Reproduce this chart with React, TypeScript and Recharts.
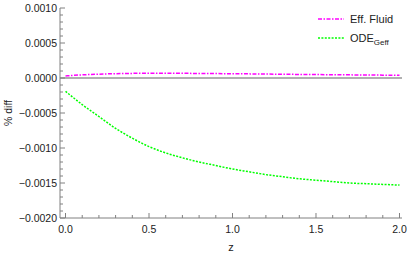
import React from 'react';
import { LineChart, Line, XAxis, YAxis, ReferenceLine, Legend, Label } from 'recharts';

const zValues = [0.0, 0.1, 0.2, 0.3, 0.4, 0.5, 0.6, 0.7, 0.8, 0.9, 1.0, 1.1, 1.2, 1.3, 1.4, 1.5, 1.6, 1.7, 1.8, 1.9, 2.0];
const effFluid = [3.0e-5, 4.5e-5, 5.5e-5, 6.2e-5, 6.6e-5, 6.8e-5, 6.8e-5, 6.7e-5, 6.5e-5, 6.3e-5, 6.1e-5, 5.9e-5, 5.6e-5, 5.4e-5, 5.1e-5, 4.9e-5, 4.7e-5, 4.5e-5, 4.3e-5, 4.1e-5, 4.0e-5];
const odeGeff = [-0.00019, -0.00038, -0.00055, -0.00072, -0.00086, -0.00098, -0.00107, -0.00114, -0.00120, -0.00125, -0.00130, -0.00134, -0.00138, -0.00141, -0.00144, -0.00146, -0.00148, -0.00150, -0.00151, -0.00152, -0.00153];

const xTicks = [0.0, 0.1, 0.2, 0.3, 0.4, 0.5, 0.6, 0.7, 0.8, 0.9, 1.0, 1.1, 1.2, 1.3, 1.4, 1.5, 1.6, 1.7, 1.8, 1.9, 2.0];
const xMajor = [0.0, 0.5, 1.0, 1.5, 2.0];
const yTicks = [
  -0.002, -0.0019, -0.0018, -0.0017, -0.0016, -0.0015, -0.0014, -0.0013, -0.0012, -0.0011,
  -0.001, -0.0009, -0.0008, -0.0007, -0.0006, -0.0005, -0.0004, -0.0003, -0.0002, -0.0001,
  0, 0.0001, 0.0002, 0.0003, 0.0004, 0.0005, 0.0006, 0.0007, 0.0008, 0.0009, 0.001,
];
const yMajor = [-0.002, -0.0015, -0.001, -0.0005, 0, 0.0005, 0.001];

const legendItems = [
  { name: 'Eff. Fluid', sub: '', color: '#ff00ff', dash: '4 1.5 1.5 1.5' },
  { name: 'ODE', sub: 'Geff', color: '#00ff00', dash: '2 1.4' },
];

const data = zValues.map((z, i) => ({ z, eff: effFluid[i], ode: odeGeff[i] }));

const FONT = '"Liberation Sans", Arial, sans-serif';
const TEXT = '#222';
const DARK = '#808080';
const LIGHT = '#b4b4b4';

const isIn = (v: number, arr: number[]) => arr.some((a) => Math.abs(a - v) < 1e-9);
const fmtY = (v: number) => {
  const s = Math.abs(v).toFixed(4);
  return v < -1e-12 ? '\u2212' + s : s;
};

const BottomTick = (props: any) => {
  const { x, y, payload } = props;
  const major = isIn(payload.value, xMajor);
  return (
    <g>
      <line x1={x} x2={x} y1={y} y2={y - (major ? 5 : 3)} stroke={DARK} strokeWidth={1} />
      {major && (
        <text x={x} y={y + 15} textAnchor="middle" fontFamily={FONT} fontSize={10.5} fill={TEXT}>
          {payload.value.toFixed(1)}
        </text>
      )}
    </g>
  );
};

const TopTick = (props: any) => {
  const { x, y, payload } = props;
  const major = isIn(payload.value, xMajor);
  return <line x1={x} x2={x} y1={y} y2={y + (major ? 5 : 3)} stroke={LIGHT} strokeWidth={1} />;
};

const LeftTick = (props: any) => {
  const { x, y, payload } = props;
  const major = isIn(payload.value, yMajor);
  return (
    <g>
      <line x1={x} x2={x + (major ? 5 : 3)} y1={y} y2={y} stroke={DARK} strokeWidth={1} />
      {major && (
        <text x={x - 3} y={y + 4} textAnchor="end" fontFamily={FONT} fontSize={10.5} fill={TEXT}>
          {fmtY(payload.value)}
        </text>
      )}
    </g>
  );
};

const RightTick = (props: any) => {
  const { x, y, payload } = props;
  const major = isIn(payload.value, yMajor);
  return <line x1={x} x2={x - (major ? 5 : 3)} y1={y} y2={y} stroke={LIGHT} strokeWidth={1} />;
};

const renderLegend = () => (
  <svg width={95} height={45} style={{ display: 'block' }}>
    {legendItems.map((it, i) => {
      const cy = 11 + i * 19;
      return (
        <g key={it.name}>
          <line x1={8} x2={34} y1={cy} y2={cy} stroke={it.color} strokeWidth={1.5} strokeDasharray={it.dash} />
          <text x={40} y={cy + 4} fontFamily={FONT} fontSize={11} fill={TEXT}>
            {it.name}
            {it.sub && (
              <tspan fontSize={8} dy={3}>
                {it.sub}
              </tspan>
            )}
          </text>
        </g>
      );
    })}
  </svg>
);

export default function App() {
  return (
    <div style={{ position: 'absolute', left: 0, top: 0, background: '#fff' }}>
      <LineChart width={407} height={255} data={data} margin={{ top: 8, right: 5, bottom: 0, left: 0 }}>
        <XAxis
          xAxisId="bottom"
          dataKey="z"
          type="number"
          domain={[-0.033, 2.015]}
          ticks={xTicks}
          interval={0}
          tickSize={0}
          tickMargin={0}
          height={37}
          tick={<BottomTick />}
          axisLine={{ stroke: DARK }}
          tickLine={false}
          allowDataOverflow
        >
          <Label
            content={(p: any) => {
              const vb = p.viewBox;
              return (
                <text x={vb.x + vb.width / 2} y={251} textAnchor="middle" fontFamily={FONT} fontSize={11} fill={TEXT}>
                  z
                </text>
              );
            }}
          />
        </XAxis>
        <XAxis
          xAxisId="top"
          dataKey="z"
          type="number"
          orientation="top"
          domain={[-0.033, 2.015]}
          ticks={xTicks}
          interval={0}
          tickSize={0}
          tickMargin={0}
          height={0}
          tick={<TopTick />}
          axisLine={{ stroke: LIGHT }}
          tickLine={false}
          allowDataOverflow
        />
        <YAxis
          yAxisId="left"
          type="number"
          domain={[-0.002, 0.001]}
          ticks={yTicks}
          interval={0}
          tickSize={0}
          tickMargin={0}
          width={60}
          tick={<LeftTick />}
          axisLine={{ stroke: DARK }}
          tickLine={false}
          allowDataOverflow
        >
          <Label
            content={(p: any) => {
              const vb = p.viewBox;
              const cy = vb.y + vb.height / 2;
              return (
                <text
                  x={12}
                  y={cy}
                  transform={`rotate(-90 12 ${cy})`}
                  textAnchor="middle"
                  fontFamily={FONT}
                  fontSize={10.5}
                  fill={TEXT}
                >
                  % diff
                </text>
              );
            }}
          />
        </YAxis>
        <YAxis
          yAxisId="right"
          orientation="right"
          type="number"
          domain={[-0.002, 0.001]}
          ticks={yTicks}
          interval={0}
          tickSize={0}
          tickMargin={0}
          width={0}
          tick={<RightTick />}
          axisLine={{ stroke: LIGHT }}
          tickLine={false}
          allowDataOverflow
        />
        <ReferenceLine xAxisId="bottom" yAxisId="left" y={0} stroke="#b0b0b0" strokeWidth={1.8} />
        <Line
          xAxisId="bottom"
          yAxisId="left"
          type="monotone"
          dataKey="eff"
          stroke="#ff00ff"
          strokeWidth={1.5}
          strokeDasharray="4 1.5 1.5 1.5"
          dot={false}
          isAnimationActive={false}
        />
        <Line
          xAxisId="bottom"
          yAxisId="left"
          type="monotone"
          dataKey="ode"
          stroke="#00ff00"
          strokeWidth={1.5}
          strokeDasharray="2 1.4"
          dot={false}
          isAnimationActive={false}
        />
        <Legend
          layout="horizontal"
          align="center"
          verticalAlign="middle"
          content={renderLegend}
          wrapperStyle={{ position: 'absolute', left: 310, top: 8, width: 95, height: 45 }}
        />
      </LineChart>
    </div>
  );
}
